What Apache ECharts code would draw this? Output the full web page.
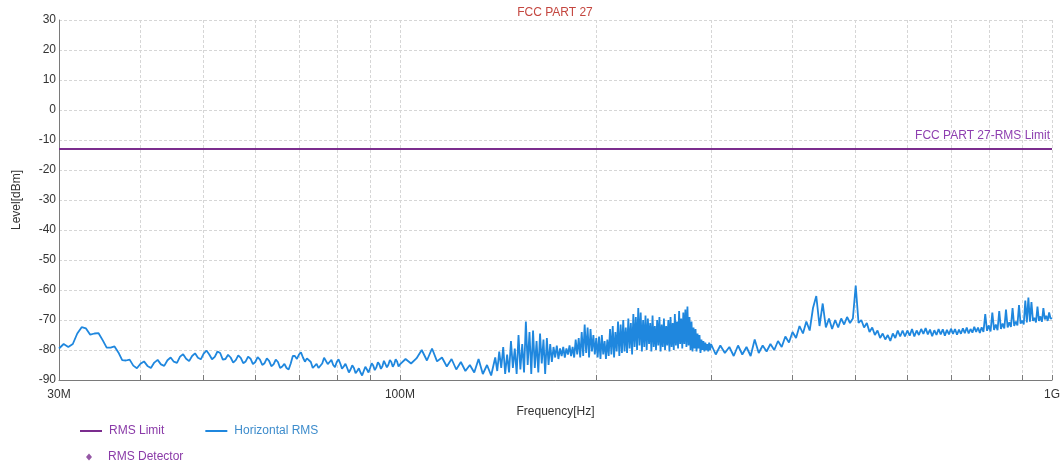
<!DOCTYPE html>
<html>
<head>
<meta charset="utf-8">
<script src="https://cdn.jsdelivr.net/npm/echarts@6/dist/echarts.min.js"></script>
<style>
html,body{margin:0;padding:0;background:#fff;}
#chart{width:1064px;height:464px;}
</style>
</head>
<body>
<div id="chart"></div>
<script>
// ---- data ----
const titleText = 'FCC PART 27';
const limitLabel = 'FCC PART 27-RMS Limit';
const limitLevel = -13; // dBm
const freqRange = [30, 1000]; // MHz
const xLabelFreqs = [30, 100, 1000]; // MHz
const xLabelTexts = ['30M', '100M', '1G'];
const gridFreqs = [30, 40, 50, 60, 70, 80, 90, 100, 200, 300, 400, 500, 600, 700, 800, 900, 1000]; // MHz
const yTicks = [-90, -80, -70, -60, -50, -40, -30, -20, -10, 0, 10, 20, 30];

// sweep frequencies (MHz)
const freqMHz = [
30,30.5,31,31.5,32,32.5,33,33.5,34,34.5,35,35.5,36,36.5,37,37.5,38,38.5,39,39.5,
40,40.5,41,41.5,42,42.5,43,43.5,44,44.5,45,45.5,46,46.5,47,47.5,48,48.5,49,49.5,
50,50.5,51,51.5,52,52.5,53,53.5,54,54.5,55,55.5,56,56.5,57,57.5,58,58.5,59,59.5,
60,60.5,61,61.5,62,62.5,63,63.5,64,64.5,65,65.5,66,66.5,67,67.5,68,68.5,69,69.5,
70,70.5,71,71.5,72,72.5,73,73.5,74,74.5,75,75.5,76,76.5,77,77.5,78,78.5,79,79.5,
80,80.5,81,81.5,82,82.5,83,83.5,84,84.5,85,85.5,86,86.5,87,87.5,88,88.5,89,89.5,
90,90.5,91,91.5,92,92.5,93,93.5,94,94.5,95,95.5,96,96.5,97,97.5,98,98.5,99,99.5,
100,
102,104,106,108,110,112,114,116,118,120,122,124,126,128,130,132,134,136,138,
140,141,142,143,144,145,146,147,148,149,150,151,152,153,154,155,156,157,158,159,
160,161,162,163,164,165,166,167,168,169,170,171,172,173,174,175,176,177,178,179,
180,181,182,183,184,185,186,187,188,189,190,191,192,193,194,195,196,197,198,199,
200,201,202,203,204,205,206,207,208,209,210,211,212,213,214,215,216,217,218,219,
220,221,222,223,224,225,226,227,228,229,230,231,232,233,234,235,236,237,238,239,
240,241,242,243,244,245,246,247,248,249,250,251,252,253,254,255,256,257,258,259,
260,261,262,263,264,265,266,267,268,269,270,271,272,273,274,275,276,277,278,279,
280,281,282,283,284,285,286,287,288,289,290,291,292,293,294,295,296,297,298,299,
300,
305,310,315,320,325,330,335,340,345,350,355,360,365,370,375,380,385,390,395,400,
405,410,415,420,425,430,435,440,445,450,455,460,465,470,475,480,485,490,495,500,
505,510,515,520,525,530,535,540,545,550,555,560,565,570,575,580,585,590,595,600,
605,610,615,620,625,630,635,640,645,650,655,660,665,670,675,680,685,690,695,700,
705,710,715,720,725,730,735,740,745,750,755,760,765,770,775,780,785,790,795,800,
805,810,815,820,825,830,835,840,845,850,855,860,865,870,875,880,885,890,895,900,
905,910,915,920,925,930,935,940,945,950,955,960,965,970,975,980,985,990,995,1000
];

// Horizontal RMS level (dBm)
const horizontalRMS = [
-79.5,-78.0,-79.0,-78.0,-74.5,-72.4,-72.8,-74.9,-74.5,-74.4,-76.7,-79.2,-79.2,-78.8,-80.8,-83.4,-83.5,-83.2,-85.2,-86.1,
-84.6,-83.8,-85.3,-86.0,-84.2,-83.3,-84.8,-85.3,-83.4,-82.5,-83.9,-84.3,-82.2,-81.4,-82.9,-83.7,-82.0,-81.1,-82.6,-83.1,
-81.2,-80.2,-81.5,-83.1,-82.3,-80.5,-81.0,-83.2,-83.0,-81.6,-82.5,-84.2,-83.4,-81.8,-82.6,-84.4,-83.8,-82.2,-82.9,-84.7,
-84.0,-82.4,-83.2,-85.0,-84.4,-82.8,-83.6,-85.4,-84.8,-83.2,-84.0,-86.0,-85.5,-84.6,-86.0,-86.5,-84.5,-82.0,-82.0,-83.0,
-81.5,-80.8,-82.5,-83.9,-82.8,-82.2,-84.0,-86.0,-85.5,-84.6,-86.0,-86.5,-84.5,-82.6,-83.0,-84.7,-84.0,-83.3,-85.0,-85.7,
-84.0,-83.1,-84.5,-86.2,-85.5,-84.6,-86.0,-87.5,-86.5,-85.1,-86.0,-87.7,-87.0,-86.1,-87.5,-88.5,-87.0,-85.6,-86.5,-87.5,
-86.0,-84.4,-85.2,-86.7,-85.8,-84.1,-84.8,-86.3,-85.4,-83.6,-84.2,-85.8,-84.9,-83.3,-84.0,-85.6,-84.7,-83.1,-83.8,-85.5,
-84.8,
-83.0,-84.5,-82.8,-80.0,-83.5,-79.5,-83.8,-82.5,-85.5,-83.0,-86.5,-84.0,-87.0,-85.0,-87.5,-83.0,-88.0,-85.0,-88.5,
-82.5,-87.0,-80.5,-86.0,-79.0,-88.0,-81.5,-87.5,-77.0,-86.0,-79.5,-88.0,-75.0,-86.5,-78.0,-87.5,-70.5,-85.0,-74.0,-88.0,
-73.5,-86.0,-77.0,-87.5,-74.5,-84.5,-76.5,-88.0,-76.0,-85.0,-78.0,-84.0,-79.0,-82.5,-78.5,-83.0,-79.5,-82.0,-79.0,-82.5,
-79.5,-81.5,-78.5,-82.0,-79.0,-82.5,-76.5,-81.5,-76.0,-82.5,-74.0,-82.0,-71.5,-81.0,-72.5,-82.5,-73.0,-80.5,-75.0,-81.5,
-76.0,-82.5,-75.5,-83.0,-75.0,-81.5,-77.0,-83.0,-76.5,-82.0,-73.0,-81.5,-72.0,-82.5,-74.0,-80.5,-70.5,-82.0,-71.5,-81.0,
-70.0,-80.5,-72.5,-81.0,-69.5,-79.5,-71.0,-81.5,-68.0,-79.0,-69.0,-80.0,-66.0,-78.5,-67.5,-80.5,-70.0,-79.0,-68.5,-80.0,
-69.5,-78.0,-71.0,-80.5,-68.5,-79.0,-72.0,-80.0,-70.0,-78.5,-69.0,-80.5,-71.5,-79.0,-69.5,-80.0,-72.0,-78.5,-70.0,-80.5,
-69.0,-79.0,-71.0,-80.0,-68.0,-78.5,-70.5,-79.5,-67.0,-78.0,-69.5,-79.5,-67.5,-78.0,-66.5,-79.0,-65.5,-78.5,-69.0,-80.0,
-70.5,-80.5,-72.5,-79.5,-73.0,-80.5,-74.5,-79.5,-75.0,-81.0,-76.5,-80.0,-77.0,-80.5,-77.5,-80.0,-78.0,-80.5,-77.5,-80.0,
-78.0,
-81.5,-78.5,-81.0,-79.0,-82.0,-78.5,-81.5,-79.0,-82.0,-76.5,-81.0,-78.5,-80.5,-78.0,-80.0,-77.0,-79.0,-75.5,-77.5,-74.0,
-76.0,-72.0,-74.5,-70.5,-73.5,-66.0,-62.0,-72.0,-64.5,-72.5,-69.5,-73.0,-70.0,-72.5,-69.5,-71.5,-69.0,-71.0,-69.5,-58.5,
-71.0,-70.0,-72.5,-71.0,-74.0,-72.5,-75.0,-73.5,-76.0,-74.5,-76.5,-75.0,-77.0,-74.5,-76.0,-73.5,-75.5,-73.5,-75.5,-73.5,
-75.2,-73.0,-75.5,-73.5,-75.0,-73.0,-74.6,-72.7,-74.8,-73.2,-75.4,-73.4,-75.0,-73.0,-74.8,-73.1,-75.2,-73.3,-74.8,-72.9,
-74.6,-73.0,-74.9,-73.2,-74.6,-72.8,-74.4,-72.5,-74.5,-73.0,-74.2,-72.3,-74.0,-72.5,-74.3,-72.4,-74.0,-68.0,-73.6,-71.8,
-73.8,-67.5,-73.3,-71.5,-73.4,-67.0,-73.0,-71.2,-72.8,-66.5,-72.5,-70.8,-72.3,-66.0,-72.0,-70.5,-71.8,-65.0,-71.2,-70.2,
-71.5,-63.5,-70.8,-62.5,-70.6,-64.0,-70.3,-69.3,-70.8,-65.5,-70.3,-68.8,-70.6,-66.0,-69.8,-68.6,-70.3,-67.5,-69.6,-69.3
];

// ---- chart ----
const lg = Math.log10;
const traceData = freqMHz.map((f, i) => [lg(f), horizontalRMS[i]]);
const limitData = [[lg(freqRange[0]), limitLevel], [lg(freqRange[1]), limitLevel]];

const chart = echarts.init(document.getElementById('chart'), null, {renderer: 'canvas'});
const font = 'Liberation Sans, Arial, sans-serif';
chart.setOption({
  animation: false,
  backgroundColor: '#ffffff',
  textStyle: {fontFamily: font},
  title: {
    text: titleText, left: 555, top: 7, padding: 0, textAlign: 'center',
    textStyle: {color: '#c4463f', fontSize: 12, fontWeight: 'normal', fontFamily: font}
  },
  grid: {left: 59, right: 12, top: 20, bottom: 84},
  legend: [
    {
      left: 80, top: 425, padding: 0, icon: 'rect', itemWidth: 22, itemHeight: 2, itemGap: 41,
      textStyle: {fontSize: 12, fontFamily: font, padding: [0, 0, 0, 2]},
      data: [
        {name: 'RMS Limit', textStyle: {color: '#8a3aa8'}},
        {name: 'Horizontal RMS', textStyle: {color: '#3d8ccc'}}
      ]
    },
    {
      left: 86, top: 451, padding: 0, icon: 'diamond', itemWidth: 6, itemHeight: 7,
      textStyle: {fontSize: 12, fontFamily: font, padding: [0, 0, 0, 11]},
      data: [{name: 'RMS Detector', textStyle: {color: '#8a3aa8'}}]
    }
  ],
  xAxis: {
    type: 'value', min: lg(freqRange[0]), max: lg(freqRange[1]),
    name: 'Frequency[Hz]', nameLocation: 'middle', nameGap: 26,
    nameTextStyle: {color: '#333', fontSize: 12, fontFamily: font},
    axisLine: {show: true, onZero: false, lineStyle: {color: '#7a7a7a', width: 1}},
    axisTick: {show: true, inside: true, length: 5, customValues: gridFreqs.map(lg), lineStyle: {color: '#7a7a7a'}},
    axisLabel: {
      customValues: xLabelFreqs.map(lg), color: '#333', fontSize: 12, margin: 9,
      formatter: v => {
        let best = 0;
        xLabelFreqs.forEach((f, i) => { if (Math.abs(lg(f) - v) < Math.abs(lg(xLabelFreqs[best]) - v)) best = i; });
        return xLabelTexts[best];
      }
    },
    splitLine: {show: true, lineStyle: {color: '#d6d6d6', type: [3, 2]}}
  },
  yAxis: {
    type: 'value', min: yTicks[0], max: yTicks[yTicks.length - 1], interval: 10,
    name: 'Level[dBm]', nameLocation: 'middle', nameGap: 36, nameRotate: 90,
    nameTextStyle: {color: '#333', fontSize: 12, fontFamily: font},
    axisLine: {show: true, lineStyle: {color: '#7a7a7a', width: 1}},
    axisTick: {show: false},
    axisLabel: {color: '#333', fontSize: 12, margin: 3},
    splitLine: {show: true, lineStyle: {color: '#d6d6d6', type: [3, 2]}}
  },
  series: [
    {
      name: 'RMS Limit', type: 'line', data: limitData, symbol: 'none',
      lineStyle: {color: '#7b2d8e', width: 2}, itemStyle: {color: '#7b2d8e'}, z: 3,
      endLabel: {
        show: true, formatter: limitLabel, align: 'right', verticalAlign: 'middle',
        offset: [-10, -13], color: '#8e3fb0', fontSize: 12, fontFamily: font
      }
    },
    {
      name: 'Horizontal RMS', type: 'line', data: traceData, symbol: 'none', sampling: 'none',
      lineStyle: {color: '#1f87de', width: 1.8}, itemStyle: {color: '#1f87de'}, z: 2
    },
    {
      name: 'RMS Detector', type: 'scatter', data: [], symbol: 'diamond',
      itemStyle: {color: '#7b2d8e'}
    }
  ]
});
</script>
</body>
</html>
